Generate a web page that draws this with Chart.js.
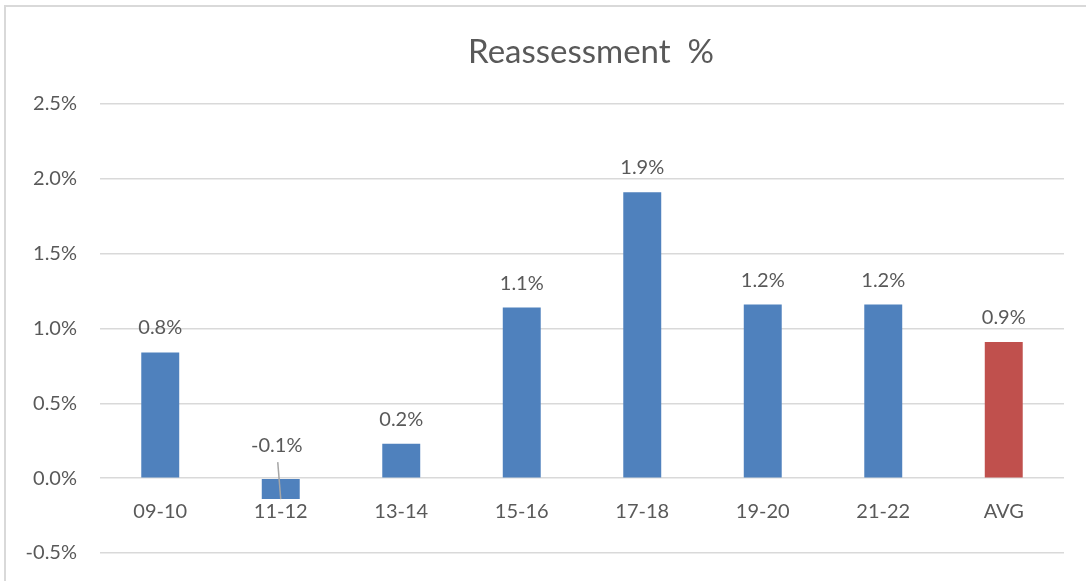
<!DOCTYPE html>
<html lang="en">

<head>
    <meta charset="UTF-8">
    <title>Reassessment %</title>
    <script src="https://cdn.jsdelivr.net/npm/chart.js"></script>
    <style>
        html, body { margin: 0; padding: 0; background: #fff; overflow: hidden; }
        #grafico { display: block; }
    </style>
</head>

<body>
    <canvas id="grafico" width="1086" height="581"></canvas>

    <script>
        // dati (valori in %)
        const periodi = ['09-10', '11-12', '13-14', '15-16', '17-18', '19-20', '21-22', 'AVG'];
        const valori = [0.84, -0.14, 0.23, 1.14, 1.91, 1.16, 1.16, 0.91];
        const colori = ['#4F81BD', '#4F81BD', '#4F81BD', '#4F81BD', '#4F81BD', '#4F81BD', '#4F81BD', '#C0504D'];
        const titolo = 'Reassessment  %';

        const grigioTesto = '#595959';
        const fontBase = 'Lato, "Liberation Sans", sans-serif';

        // cornice esterna + titolo
        const cornice = {
            id: 'cornice',
            beforeDraw(chart) {
                const ctx = chart.ctx;
                ctx.save();
                ctx.fillStyle = '#fff';
                ctx.fillRect(0, 0, chart.width, chart.height);
                ctx.strokeStyle = '#D9D9D9';
                ctx.lineWidth = 2;
                ctx.strokeRect(5, 6, chart.width + 20, chart.height + 20);
                ctx.restore();
            },
            afterDraw(chart) {
                const ctx = chart.ctx;
                ctx.save();
                ctx.font = '33px ' + fontBase;
                ctx.fillStyle = grigioTesto;
                ctx.textAlign = 'center';
                ctx.textBaseline = 'alphabetic';
                ctx.fillText(titolo, 591, 63);
                ctx.restore();
            }
        };

        // etichette dei valori sopra le barre
        const etichette = {
            id: 'etichette',
            afterDatasetsDraw(chart) {
                const ctx = chart.ctx;
                const meta = chart.getDatasetMeta(0);
                const zero = chart.scales.y.getPixelForValue(0);
                ctx.save();
                ctx.font = '20px ' + fontBase;
                ctx.fillStyle = grigioTesto;
                ctx.textAlign = 'center';
                ctx.textBaseline = 'alphabetic';
                meta.data.forEach((barra, i) => {
                    const v = valori[i];
                    const testo = v.toFixed(1) + '%';
                    if (v >= 0) {
                        ctx.fillText(testo, barra.x, barra.y - 18);
                    } else {
                        // etichetta spostata sopra lo zero con linea guida
                        ctx.fillText(testo, barra.x - 4, zero - 26);
                        ctx.strokeStyle = '#A6A6A6';
                        ctx.lineWidth = 1.5;
                        ctx.beginPath();
                        ctx.moveTo(barra.x - 3, zero - 16);
                        ctx.lineTo(barra.x, barra.y);
                        ctx.stroke();
                    }
                });
                ctx.restore();
            }
        };

        const grafico = new Chart(document.getElementById('grafico').getContext('2d'), {
            type: 'bar',
            data: {
                labels: periodi,
                datasets: [{
                    label: 'Reassessment %',
                    data: valori,
                    backgroundColor: colori,
                    borderWidth: 0,
                    categoryPercentage: 1,
                    barPercentage: 0.315
                }]
            },
            options: {
                responsive: false,
                animation: false,
                layout: {
                    padding: { top: 104, right: 22, bottom: 28, left: 0 }
                },
                plugins: {
                    legend: { display: false },
                    title: { display: false },
                    tooltip: { enabled: false }
                },
                scales: {
                    x: {
                        position: { y: 0 },
                        grid: { display: false },
                        border: { display: false },
                        ticks: {
                            color: grigioTesto,
                            font: { family: fontBase, size: 20 },
                            padding: 13,
                            maxRotation: 0
                        }
                    },
                    y: {
                        min: -0.5,
                        max: 2.5,
                        afterFit: (s) => {
                            s.width = 100;
                            // niente spazio extra per le etichette agli estremi
                            s.paddingTop = 0;
                            s.paddingBottom = 0;
                        },
                        grid: { color: '#D9D9D9', lineWidth: 1.5, drawTicks: false },
                        border: { display: false },
                        ticks: {
                            stepSize: 0.5,
                            color: grigioTesto,
                            font: { family: fontBase, size: 20 },
                            padding: 23,
                            callback: (v) => v.toFixed(1) + '%'
                        }
                    }
                }
            },
            plugins: [cornice, etichette]
        });
    </script>
</body>

</html>
